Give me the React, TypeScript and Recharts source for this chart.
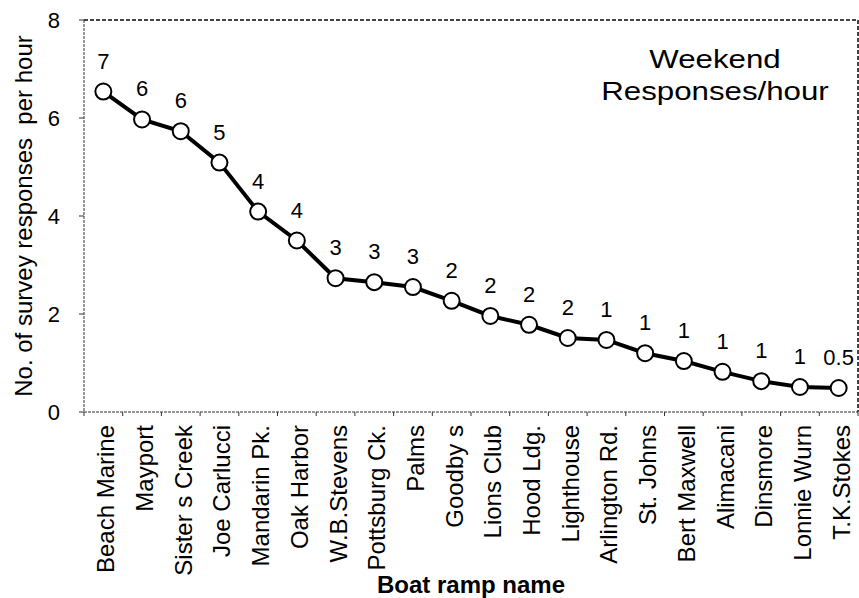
import React from 'react';
import { LineChart, Line, XAxis, YAxis, LabelList, Label } from 'recharts';

const rampNames = [
  'Beach Marine', 'Mayport', 'Sister s Creek', 'Joe Carlucci', 'Mandarin Pk.',
  'Oak Harbor', 'W.B.Stevens', 'Pottsburg Ck.', 'Palms', 'Goodby s',
  'Lions Club', 'Hood Ldg.', 'Lighthouse', 'Arlington Rd.', 'St. Johns',
  'Bert Maxwell', 'Alimacani', 'Dinsmore', 'Lonnie Wurn', 'T.K.Stokes',
];
const responsesPerHour = [
  6.54, 5.97, 5.73, 5.09, 4.09, 3.5, 2.73, 2.65, 2.55, 2.27,
  1.96, 1.78, 1.51, 1.47, 1.2, 1.04, 0.82, 0.63, 0.51, 0.49,
];
const roundedLabels = ['7', '6', '6', '5', '4', '4', '3', '3', '3', '2', '2', '2', '2', '1', '1', '1', '1', '1', '1', '0.5'];
const yTicks = [0, 2, 4, 6, 8];
const yTitle = 'No. of survey responses  per hour';
const xTitle = 'Boat ramp name';
const noteLines = ['Weekend', 'Responses/hour'];

const FONT = '"Liberation Sans", Arial, Helvetica, sans-serif';

const data = rampNames.map((name, i) => ({
  name,
  pos: i + 0.5,
  value: responsesPerHour[i],
  label: roundedLabels[i],
}));

// ticks at category boundaries (integers) and centers (halves)
const xTicks: number[] = [];
for (let i = 0; i <= rampNames.length * 2; i++) xTicks.push(i / 2);

const XTick = (props: any) => {
  const { x, y, payload } = props;
  const v = payload.value as number;
  if (Number.isInteger(v)) {
    return <line x1={x} y1={y} x2={x} y2={y + 4} stroke="#333" strokeWidth={1} />;
  }
  const idx = Math.floor(v);
  const tx = x + 11;
  const ty = y + 13;
  return (
    <text
      x={tx}
      y={ty}
      transform={`rotate(-90, ${tx}, ${ty})`}
      textAnchor="end"
      fontSize={24}
      fontFamily={FONT}
      fill="#000"
    >
      {rampNames[idx]}
    </text>
  );
};

const renderPointLabel = (props: any) => {
  const x = props.x ?? props.viewBox?.x;
  const y = props.y ?? props.viewBox?.y;
  return (
    <text x={x} y={y - 23} textAnchor="middle" fontSize={22} fontFamily={FONT} fill="#000">
      {props.value}
    </text>
  );
};

const frameLine = { stroke: '#444', strokeWidth: 2, strokeDasharray: '4 2' };

export default function App() {
  return (
    <div style={{ position: 'absolute', left: 0, top: 0, width: 859, height: 598, background: '#fff' }}>
      <LineChart
        width={859}
        height={598}
        data={data}
        margin={{ top: 19, right: 0, bottom: 0, left: 0 }}
      >
        <XAxis
          dataKey="pos"
          type="number"
          domain={[0, rampNames.length]}
          ticks={xTicks}
          interval={0}
          height={186}
          tickSize={0}
          tickMargin={0}
          tickLine={false}
          tick={<XTick />}
          axisLine={{ stroke: '#333', strokeWidth: 1, strokeDasharray: '3 1' }}
        >
          <Label
            content={(p: any) => {
              const vb = p.viewBox || {};
              const cx = (vb.x ?? 84) + (vb.width ?? 774) / 2;
              return (
                <text x={cx} y={593} textAnchor="middle" fontSize={24} fontWeight="bold" fontFamily={FONT} fill="#000">
                  {xTitle}
                </text>
              );
            }}
          />
        </XAxis>
        <XAxis
          xAxisId="top"
          orientation="top"
          dataKey="pos"
          type="number"
          domain={[0, rampNames.length]}
          height={1}
          tick={false}
          tickLine={false}
          axisLine={frameLine}
        />
        <YAxis
          type="number"
          domain={[0, 8]}
          ticks={yTicks}
          interval={0}
          width={84}
          tickSize={5}
          tickMargin={19}
          tick={{ fontSize: 22, fontFamily: FONT, fill: '#000' }}
          tickLine={{ stroke: '#333' }}
          axisLine={{ stroke: '#333', strokeWidth: 1, strokeDasharray: '3 1' }}
        >
          <Label
            content={(p: any) => {
              const vb = p.viewBox || {};
              const cy = (vb.y ?? 20) + (vb.height ?? 392) / 2;
              return (
                <text
                  x={32}
                  y={cy}
                  transform={`rotate(-90, 32, ${cy})`}
                  textAnchor="middle"
                  fontSize={24}
                  fontFamily={FONT}
                  fill="#000"
                  style={{ whiteSpace: 'pre' }}
                >
                  {yTitle}
                </text>
              );
            }}
          />
        </YAxis>
        <YAxis
          yAxisId="frame"
          orientation="right"
          type="number"
          domain={[0, 8]}
          width={1}
          tick={false}
          tickLine={false}
          axisLine={frameLine}
        />
        <Line
          type="linear"
          dataKey="value"
          stroke="#000"
          strokeWidth={4}
          dot={{ r: 8, fill: '#fff', stroke: '#000', strokeWidth: 2 }}
          activeDot={false}
          isAnimationActive={false}
        >
          <LabelList dataKey="label" content={renderPointLabel} />
        </Line>
      </LineChart>
      <div
        style={{
          position: 'absolute',
          left: 565,
          top: 43,
          width: 300,
          textAlign: 'center',
          fontFamily: FONT,
          fontSize: 25,
          lineHeight: '32px',
          color: '#000',
          transform: 'scaleX(1.25)',
          transformOrigin: '150px 0',
          whiteSpace: 'nowrap',
        }}
      >
        {noteLines.map((l) => (
          <div key={l}>{l}</div>
        ))}
      </div>
    </div>
  );
}
